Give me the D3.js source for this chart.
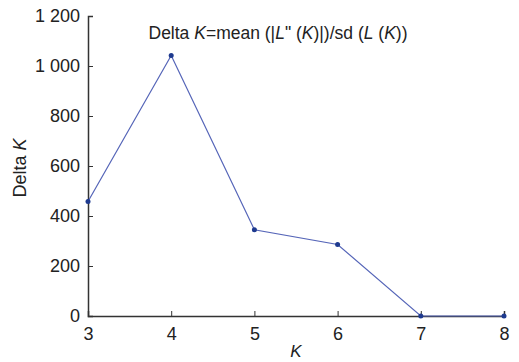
<!DOCTYPE html>
<html>
<head>
<meta charset="utf-8">
<script src="https://cdn.jsdelivr.net/npm/d3@7"></script>
<style>
  body { margin: 0; background: #fff; }
  text { font-family: "Liberation Sans", Arial, sans-serif; fill: #222; }
</style>
</head>
<body>
<div id="chart"></div>
<script>
const kValues = [3, 4, 5, 6, 7, 8];
const deltaK = [458, 1042, 345, 286, 0, 0];
const yTicks = [0, 200, 400, 600, 800, 1000, 1200];

const width = 519;
const height = 362;
const margin = { top: 16, right: 15, bottom: 46, left: 88 };

const svg = d3.select('#chart')
  .append('svg')
  .attr('width', width)
  .attr('height', height);

const x = d3.scaleLinear()
  .domain([3, 8])
  .range([margin.left, width - margin.right]);

const y = d3.scaleLinear()
  .domain([0, 1200])
  .range([height - margin.bottom, margin.top]);

const fmt = v => d3.format(',')(v).replace(/,/g, ' ');

// x axis, ticks pointing up
const xAxis = svg.append('g')
  .attr('transform', `translate(0, ${y(0)})`)
  .call(d3.axisBottom(x).tickValues(kValues).tickSize(-5).tickPadding(11).tickFormat(d3.format('d')));
xAxis.select('.domain').attr('stroke', '#333').attr('stroke-width', 1.5);
xAxis.selectAll('.tick line').attr('stroke', '#333');
xAxis.selectAll('text').style('font-size', '18px').attr('dy', '0.71em');

// y axis, ticks pointing right
const yAxis = svg.append('g')
  .attr('transform', `translate(${x(3)}, 0)`)
  .call(d3.axisLeft(y).tickValues(yTicks).tickSize(-5).tickPadding(8).tickFormat(fmt));
yAxis.select('.domain').attr('stroke', '#333').attr('stroke-width', 1.5);
yAxis.selectAll('.tick line').attr('stroke', '#333');
yAxis.selectAll('text').style('font-size', '18px');

const pts = kValues.map((k, i) => ({ k, v: deltaK[i] }));

const line = d3.line()
  .x(d => x(d.k))
  .y(d => y(d.v));

svg.append('path')
  .datum(pts)
  .attr('d', line)
  .attr('fill', 'none')
  .attr('stroke', '#5565b8')
  .attr('stroke-width', 1.2);

svg.selectAll('.pt')
  .data(pts)
  .enter()
  .append('circle')
  .attr('class', 'pt')
  .attr('cx', d => x(d.k))
  .attr('cy', d => y(d.v))
  .attr('r', 2.5)
  .attr('fill', '#1e3a8f');

// title
const title = svg.append('text')
  .attr('x', 278)
  .attr('y', 39)
  .attr('text-anchor', 'middle')
  .style('font-size', '17.5px');
title.append('tspan').text('Delta ');
title.append('tspan').style('font-style', 'italic').text('K');
title.append('tspan').text('=mean (|');
title.append('tspan').style('font-style', 'italic').text('L');
title.append('tspan').text('" (');
title.append('tspan').style('font-style', 'italic').text('K');
title.append('tspan').text(')|)/sd (');
title.append('tspan').style('font-style', 'italic').text('L');
title.append('tspan').text(' (');
title.append('tspan').style('font-style', 'italic').text('K');
title.append('tspan').text('))');

// axis labels
const yl = svg.append('text')
  .attr('transform', `translate(26, 168) rotate(-90)`)
  .attr('text-anchor', 'middle')
  .style('font-size', '18px');
yl.append('tspan').text('Delta ');
yl.append('tspan').style('font-style', 'italic').text('K');

svg.append('text')
  .attr('x', 296)
  .attr('y', 357)
  .attr('text-anchor', 'middle')
  .style('font-size', '17px')
  .style('font-style', 'italic')
  .text('K');
</script>
</body>
</html>
